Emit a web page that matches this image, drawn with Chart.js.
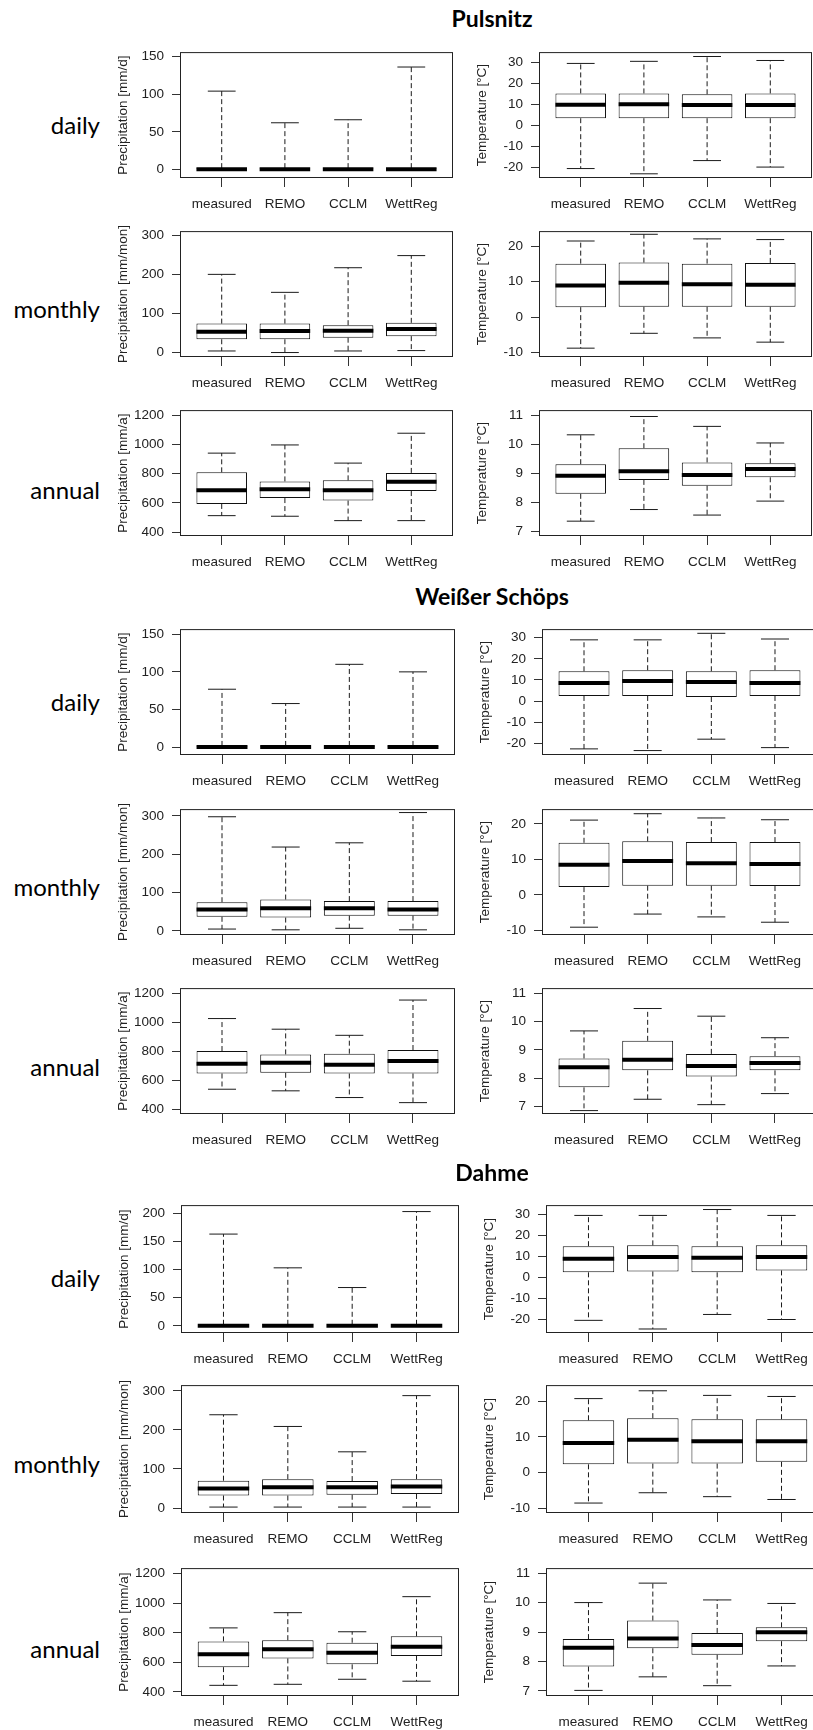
<!DOCTYPE html>
<html>
<head>
<meta charset="utf-8">
<script src="https://cdn.jsdelivr.net/npm/chart.js@4.4.1/dist/chart.umd.min.js"></script>
<style>
  html, body { margin: 0; padding: 0; background: #fff; }
  #page { position: relative; width: 813px; height: 1730px; overflow: hidden; }
  #page canvas { position: absolute; }
  .river { position: absolute; font: bold 23px Lato, sans-serif; color: #000; white-space: nowrap; transform: translate(-50%, -50%); }
  .period { position: absolute; font: 24px Lato, sans-serif; color: #000; white-space: nowrap; transform: translate(-100%, -50%); }
</style>
</head>
<body>
<div id="page"></div>
<script>
const groups = ['measured', 'REMO', 'CCLM', 'WettReg'];
const rivers = ['Pulsnitz', 'Weißer Schöps', 'Dahme'];
const periods = ['daily', 'monthly', 'annual'];
const precipUnits = ['mm/d', 'mm/mon', 'mm/a'];

// each entry: [lower whisker, q1, median, q3, upper whisker], one per group
const pulsnitzPrecipDaily   = [[0, 0, 0.3, 1.8, 104], [0, 0, 0.3, 1.8, 62], [0, 0, 0.3, 1.8, 66], [0, 0, 0.3, 1.8, 136]];
const pulsnitzTempDaily     = [[-20.7, 3.3, 9.7, 15.1, 29.4], [-23.2, 3.3, 10.0, 15.1, 30.4], [-16.9, 3.3, 9.6, 14.7, 32.7], [-20.0, 3.3, 9.6, 15.1, 30.8]];
const pulsnitzPrecipMonthly = [[4, 34, 53, 74, 200], [0, 34, 55, 74, 154], [4, 38, 56, 70, 217], [5, 42, 60, 76, 248]];
const pulsnitzTempMonthly   = [[-8.8, 2.8, 8.9, 15.1, 21.5], [-4.6, 2.9, 9.7, 15.4, 23.4], [-5.9, 2.9, 9.3, 15.1, 22.1], [-7.1, 2.9, 9.1, 15.3, 21.9]];
const pulsnitzPrecipAnnual  = [[513, 593, 687, 809, 940], [509, 633, 694, 747, 996], [479, 616, 687, 754, 872], [479, 681, 745, 805, 1076]];
const pulsnitzTempAnnual    = [[7.35, 8.29, 8.91, 9.31, 10.32], [7.75, 8.77, 9.07, 9.86, 10.95], [7.56, 8.57, 8.94, 9.37, 10.61], [8.04, 8.86, 9.14, 9.34, 10.04]];

const schoepsPrecipDaily   = [[0, 0, 0.3, 1.8, 77], [0, 0, 0.3, 1.8, 58], [0, 0, 0.3, 1.8, 110], [0, 0, 0.3, 1.8, 100]];
const schoepsTempDaily     = [[-22.7, 2.4, 8.6, 14.1, 29.0], [-23.5, 2.4, 9.5, 14.6, 29.0], [-18.1, 1.9, 9.0, 14.1, 32.1], [-22.1, 2.4, 8.6, 14.6, 29.4]];
const schoepsPrecipMonthly = [[5, 37, 56, 75, 298], [3, 35, 59, 82, 219], [7, 40, 59, 78, 230], [3, 40, 56, 78, 309]];
const schoepsTempMonthly   = [[-9.1, 2.2, 8.5, 14.7, 21.1], [-5.4, 2.6, 9.6, 15.1, 22.9], [-6.2, 2.6, 8.9, 14.9, 21.7], [-7.7, 2.5, 8.7, 14.9, 21.2]];
const schoepsPrecipAnnual  = [[540, 648, 715, 802, 1025], [529, 653, 722, 779, 952], [483, 648, 708, 784, 910], [448, 648, 733, 809, 1152]];
const schoepsTempAnnual    = [[6.86, 7.68, 8.39, 8.70, 9.67], [7.26, 8.28, 8.65, 9.32, 10.46], [7.07, 8.06, 8.43, 8.86, 10.19], [7.46, 8.28, 8.54, 8.78, 9.43]];

const dahmePrecipDaily   = [[0, 0, 0.3, 1.8, 163], [0, 0, 0.3, 1.8, 103], [0, 0, 0.3, 1.8, 68], [0, 0, 0.3, 1.8, 203]];
const dahmeTempDaily     = [[-20.4, 2.4, 8.8, 14.8, 29.4], [-24.5, 2.8, 9.7, 15.2, 29.4], [-17.6, 2.4, 9.3, 14.8, 32.2], [-20.0, 3.3, 9.7, 15.2, 29.4]];
const dahmePrecipMonthly = [[2.4, 32, 50, 70, 239], [2.4, 32, 53, 74, 209], [2.4, 34, 53, 69, 144], [2.4, 36, 55, 74, 288]];
const dahmeTempMonthly   = [[-8.6, 2.3, 8.3, 14.7, 20.8], [-5.7, 2.5, 9.2, 15.3, 23.0], [-6.8, 2.5, 8.8, 15.0, 21.7], [-7.6, 3.0, 8.8, 15.0, 21.4]];
const dahmePrecipAnnual  = [[444, 567, 654, 741, 832], [451, 626, 688, 749, 935], [485, 586, 665, 732, 806], [472, 643, 705, 775, 1043]];
const dahmeTempAnnual    = [[7.02, 7.83, 8.47, 8.76, 10.00], [7.48, 8.45, 8.78, 9.39, 10.66], [7.18, 8.23, 8.56, 8.97, 10.09], [7.85, 8.69, 8.99, 9.16, 9.97]];

// y tick labels
const precipDailyTicks      = [0, 50, 100, 150];
const precipDailyTicksDahme = [0, 50, 100, 150, 200];
const precipMonthlyTicks    = [0, 100, 200, 300];
const precipAnnualTicks     = [400, 600, 800, 1000, 1200];
const tempDailyTicks        = [-20, -10, 0, 10, 20, 30];
const tempMonthlyTicks      = [-10, 0, 10, 20];
const tempAnnualTicks       = [7, 8, 9, 10, 11];

// y axis limits, per period: [precip min, precip max, temp min, temp max]
const pulsnitzLimits = [[-11.3, 155.8, -25.2, 34.8], [-11.4, 310.7, -11.3, 24.3], [374, 1234, 6.84, 11.17]];
const schoepsLimits  = [[-10.2, 156.7, -25.6, 34.1], [-10.5, 318, -11.3, 24.2], [370, 1234, 6.74, 11.18]];
const dahmeLimits    = [[-12.8, 214.5, -26.4, 34.3], [-12.8, 315, -11.4, 24.6], [372, 1236, 6.83, 11.17]];

const riverData = [
  { precip: [pulsnitzPrecipDaily, pulsnitzPrecipMonthly, pulsnitzPrecipAnnual],
    temp: [pulsnitzTempDaily, pulsnitzTempMonthly, pulsnitzTempAnnual],
    precipTicks: [precipDailyTicks, precipMonthlyTicks, precipAnnualTicks], limits: pulsnitzLimits },
  { precip: [schoepsPrecipDaily, schoepsPrecipMonthly, schoepsPrecipAnnual],
    temp: [schoepsTempDaily, schoepsTempMonthly, schoepsTempAnnual],
    precipTicks: [precipDailyTicks, precipMonthlyTicks, precipAnnualTicks], limits: schoepsLimits },
  { precip: [dahmePrecipDaily, dahmePrecipMonthly, dahmePrecipAnnual],
    temp: [dahmeTempDaily, dahmeTempMonthly, dahmeTempAnnual],
    precipTicks: [precipDailyTicksDahme, precipMonthlyTicks, precipAnnualTicks], limits: dahmeLimits }
];
const tempTicks = [tempDailyTicks, tempMonthlyTicks, tempAnnualTicks];

// page geometry of the plot boxes
const blocks = [
  { titleY: 18,   precipX: 180, tempX: 539, w: 272.5, rowTop: [43.7, 223.3, 402],     rowH: 133.6 },
  { titleY: 596,  precipX: 180, tempX: 542, w: 275,   rowTop: [621.3, 800.8, 979.5],  rowH: 133.6 },
  { titleY: 1172, precipX: 181, tempX: 546, w: 278,   rowTop: [1196.7, 1377.3, 1560], rowH: 135.5 }
];
const labelShift = [13, 18, 20];
const AX = 90, PT = 8, PR = 4, BX = 45;
const axisFont = { family: 'Liberation Sans, Arial, sans-serif', size: 13.5 };
const ink = '#222';

// whiskers, caps, medians and the frame around each panel
const boxplotParts = {
  id: 'boxplotParts',
  afterDatasetsDraw(chart, args, opts) {
    const { ctx, chartArea: a, scales: { x, y } } = chart;
    const bars = chart.getDatasetMeta(0).data;
    const seg = (x1, y1, x2, y2) => { ctx.beginPath(); ctx.moveTo(x1, y1); ctx.lineTo(x2, y2); ctx.stroke(); };
    ctx.save();
    opts.stats.forEach((s, i) => {
      const cx = x.getPixelForValue(i + 1);
      const half = bars[i].width / 2;
      const cap = half * 0.55;
      const [lo, q1, med, q3, hi] = s.map(v => y.getPixelForValue(v));
      ctx.strokeStyle = '#1a1a1a';
      ctx.lineWidth = 1;
      ctx.setLineDash([5, 3]);
      seg(cx, q3, cx, hi);
      seg(cx, q1, cx, lo);
      ctx.setLineDash([]);
      seg(cx - cap, hi, cx + cap, hi);
      seg(cx - cap, lo, cx + cap, lo);
      ctx.strokeStyle = '#000';
      ctx.lineWidth = 4;
      seg(cx - half, med, cx + half, med);
    });
    ctx.strokeStyle = '#222';
    ctx.lineWidth = 1;
    ctx.strokeRect(a.left + 0.5, a.top + 0.5, a.width - 1, a.height - 1);
    ctx.restore();
  }
};

const page = document.getElementById('page');

function panel(left, top, w, h, stats, ticks, lim, yTitle) {
  const cw = Math.round(w), ch = Math.round(h);
  const canvas = document.createElement('canvas');
  canvas.width = AX + cw + PR;
  canvas.height = PT + ch + BX;
  canvas.style.left = (Math.round(left) - AX) + 'px';
  canvas.style.top = (Math.round(top) - PT) + 'px';
  page.appendChild(canvas);

  new Chart(canvas, {
    type: 'bar',
    data: {
      datasets: [{
        data: stats.map((s, i) => ({ x: i + 1, y: [s[1], s[3]] })),
        backgroundColor: '#fff',
        borderColor: '#111',
        borderWidth: 1,
        borderSkipped: false,
        barPercentage: 0.8,
        categoryPercentage: 1
      }]
    },
    options: {
      responsive: false,
      animation: false,
      devicePixelRatio: 1,
      events: [],
      layout: { padding: { top: PT, right: PR, left: 0, bottom: 0 } },
      scales: {
        x: {
          type: 'linear', min: 0.34, max: 4.66, offset: false,
          afterBuildTicks: s => { s.ticks = groups.map((g, i) => ({ value: i + 1 })); },
          afterFit: s => { s.height = BX; },
          ticks: { callback: (v, i) => groups[i], font: axisFont, color: ink, padding: 9, maxRotation: 0, autoSkip: false },
          grid: { drawOnChartArea: false, offset: false, tickLength: 9, color: '#333' },
          border: { display: false }
        },
        y: {
          type: 'linear', min: lim[0], max: lim[1],
          afterBuildTicks: s => { s.ticks = ticks.map(v => ({ value: v })); },
          afterFit: s => { s.width = AX; },
          ticks: { callback: v => String(v), font: axisFont, color: ink, padding: 8 },
          grid: { drawOnChartArea: false, tickLength: 8, color: '#333' },
          border: { display: false },
          title: { display: true, text: yTitle, font: axisFont, color: ink, padding: { top: 25, bottom: 0 } }
        }
      },
      plugins: {
        legend: { display: false },
        tooltip: { enabled: false },
        boxplotParts: { stats }
      }
    },
    plugins: [boxplotParts]
  });
}

rivers.forEach((river, r) => {
  const b = blocks[r];
  const d = riverData[r];
  const title = document.createElement('div');
  title.className = 'river';
  title.textContent = river;
  title.style.left = '492px';
  title.style.top = b.titleY + 'px';
  page.appendChild(title);

  periods.forEach((period, p) => {
    const top = b.rowTop[p];
    const lim = d.limits[p];
    const label = document.createElement('div');
    label.className = 'period';
    label.textContent = period;
    label.style.left = '100px';
    label.style.top = (top + b.rowH / 2 + labelShift[p]) + 'px';
    page.appendChild(label);

    panel(b.precipX, top, b.w, b.rowH, d.precip[p], d.precipTicks[p], [lim[0], lim[1]],
      'Precipitation [' + precipUnits[p] + ']');
    panel(b.tempX, top, b.w, b.rowH, d.temp[p], tempTicks[p], [lim[2], lim[3]],
      'Temperature [°C]');
  });
});
</script>
</body>
</html>
